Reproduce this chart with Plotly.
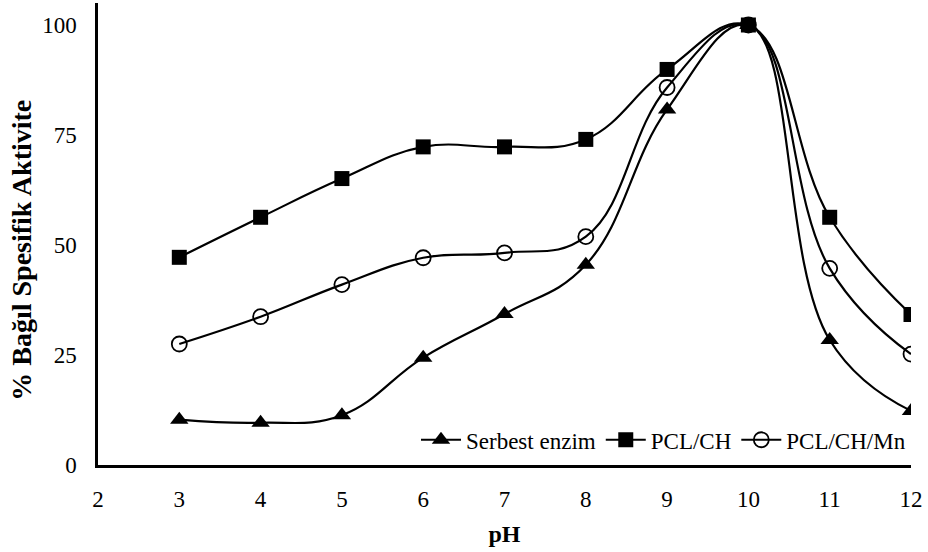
import plotly.graph_objects as go

ph = [3, 4, 5, 6, 7, 8, 9, 10, 11, 12]
serbest_enzim = [10.3, 9.6, 11.3, 24.4, 34.3, 45.5, 80.8, 100, 28.4, 12.3]
pcl_ch = [47.2, 56.3, 65.1, 72.3, 72.3, 74.0, 89.9, 100, 56.3, 34.2]
pcl_ch_mn = [27.5, 33.7, 41.0, 47.1, 48.2, 51.9, 85.8, 100, 44.7, 25.2]

x_ticks = [2, 3, 4, 5, 6, 7, 8, 9, 10, 11, 12]
y_ticks = [0, 25, 50, 75, 100]

FONT = "Liberation Serif, Times New Roman, serif"
line_style = dict(color="black", width=2.2, shape="spline", smoothing=1.2)

fig = go.Figure()
fig.add_trace(go.Scatter(
    x=ph, y=serbest_enzim, name="Serbest enzim", mode="lines+markers",
    line=line_style,
    marker=dict(symbol="triangle-up", size=16, color="black"),
))
fig.add_trace(go.Scatter(
    x=ph, y=pcl_ch, name="PCL/CH", mode="lines+markers",
    line=line_style,
    marker=dict(symbol="square", size=15, color="black"),
))
fig.add_trace(go.Scatter(
    x=ph, y=pcl_ch_mn, name="PCL/CH/Mn", mode="lines+markers",
    line=line_style,
    marker=dict(symbol="circle-open", size=15, color="black",
                line=dict(width=1.8, color="black")),
))

# Rotated y-axis title placed as an annotation so it can sit slightly below centre
fig.add_annotation(
    text="<b>% Bağıl Spesifik Aktivite</b>",
    xref="paper", yref="paper", x=-0.094, y=0.465,
    xanchor="center", yanchor="middle", textangle=-90, showarrow=False,
    font=dict(family=FONT, size=28, color="black"),
)

fig.update_layout(
    width=928, height=552,
    margin=dict(l=98, r=17, t=3, b=87),
    paper_bgcolor="white", plot_bgcolor="white",
    font=dict(family=FONT, size=23, color="black"),
    showlegend=True,
    legend=dict(
        orientation="h", x=1.0, xanchor="right", y=0.008, yanchor="bottom",
        bgcolor="rgba(255,255,255,0)", font=dict(family=FONT, size=23),
        itemwidth=40, tracegroupgap=0,
    ),
    xaxis=dict(
        range=[2, 12], tickvals=x_ticks, ticktext=[str(v) for v in x_ticks],
        showgrid=False, zeroline=False, showline=True, linecolor="black",
        linewidth=2.5, ticks="", ticklabelstandoff=12,
        title=dict(text="<b>pH</b>", font=dict(family=FONT, size=24), standoff=14),
    ),
    yaxis=dict(
        range=[0, 105], tickvals=y_ticks, ticktext=[str(v) for v in y_ticks],
        showgrid=False, zeroline=False, showline=True, linecolor="black",
        linewidth=2.5, ticks="", ticklabelstandoff=14,
    ),
)

fig.write_html("out.html")
